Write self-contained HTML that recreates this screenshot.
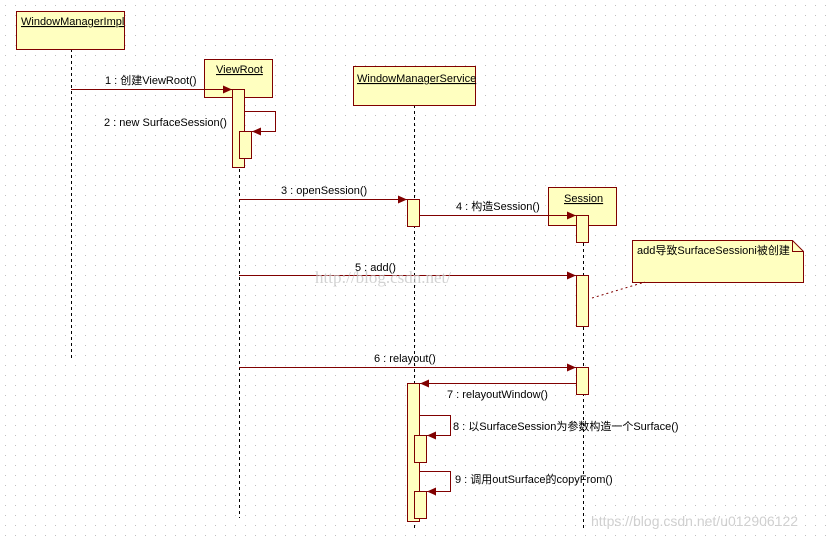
<!DOCTYPE html>
<html><head><meta charset="utf-8"><style>
html,body{margin:0;padding:0;background:#fff;}
svg{display:block;}
text{font-family:"Liberation Sans","Noto Sans CJK SC",sans-serif;font-size:11px;fill:#000;}
</style></head><body>
<svg width="834" height="539" viewBox="0 0 834 539" xmlns="http://www.w3.org/2000/svg">
<defs>
<pattern id="g" width="10" height="10" patternUnits="userSpaceOnUse"><rect x="5" y="5" width="1" height="1" fill="#c0c0c0"/></pattern>
<marker id="a" markerWidth="10" markerHeight="8" refX="9" refY="4" orient="auto" markerUnits="userSpaceOnUse"><path d="M0,0 L9,4 L0,8 z" fill="#800000"/></marker>
</defs>
<rect width="834" height="539" fill="url(#g)"/>
<g stroke="#000" stroke-dasharray="3,3" stroke-width="1">
<line x1="71.5" y1="49" x2="71.5" y2="360"/>
<line x1="239.5" y1="97" x2="239.5" y2="518"/>
<line x1="414.5" y1="105" x2="414.5" y2="530"/>
<line x1="583.5" y1="225" x2="583.5" y2="530"/>
</g>
<g fill="#ffffc0" stroke="#800000" stroke-width="1">
<rect x="16.5" y="11.5" width="108" height="38"/>
<rect x="204.5" y="59.5" width="68" height="38"/>
<rect x="353.5" y="66.5" width="122" height="39"/>
<rect x="548.5" y="187.5" width="68" height="38"/>
<path d="M632.5,240.5 H792.5 L803.5,251.5 V282.5 H632.5 Z"/>
<path d="M792.5,240.5 V251.5 H803.5" fill="none"/>
<rect x="232.5" y="89.5" width="12" height="78"/>
<rect x="239.5" y="131.5" width="12" height="27"/>
<rect x="407.5" y="199.5" width="12" height="27"/>
<rect x="576.5" y="215.5" width="12" height="27"/>
<rect x="576.5" y="275.5" width="12" height="51"/>
<rect x="576.5" y="367.5" width="12" height="27"/>
<rect x="407.5" y="383.5" width="12" height="138"/>
<rect x="414.5" y="435.5" width="12" height="27"/>
<rect x="414.5" y="491.5" width="12" height="27"/>
</g>
<g stroke="#800000" stroke-width="1" fill="none" marker-end="url(#a)">
<line x1="71" y1="89.5" x2="232" y2="89.5"/>
<path d="M244,111.5 H275.5 V131.5 H252"/>
<line x1="239" y1="199.5" x2="407" y2="199.5"/>
<line x1="420" y1="215.5" x2="576" y2="215.5"/>
<line x1="239" y1="275.5" x2="576" y2="275.5"/>
<line x1="239" y1="367.5" x2="576" y2="367.5"/>
<line x1="576" y1="383.5" x2="420" y2="383.5"/>
<path d="M420,415.5 H450.5 V435.5 H427"/>
<path d="M420,471.5 H450.5 V491.5 H427"/>
</g>
<line x1="592" y1="298" x2="645" y2="282" stroke="#800000" stroke-dasharray="2,3"/>
<g text-decoration="underline">
<text x="21" y="25">WindowManagerImpl</text>
<text x="216" y="73">ViewRoot</text>
<text x="357" y="82">WindowManagerService</text>
<text x="564" y="202">Session</text>
</g>
<text x="105" y="84">1 : 创建ViewRoot()</text>
<text x="104" y="126">2 : new SurfaceSession()</text>
<text x="281" y="194">3 : openSession()</text>
<text x="456" y="210">4 : 构造Session()</text>
<text x="355" y="271">5 : add()</text>
<text x="374" y="362">6 : relayout()</text>
<text x="447" y="398">7 : relayoutWindow()</text>
<text x="453" y="430">8 : 以SurfaceSession为参数构造一个Surface()</text>
<text x="455" y="483">9 : 调用outSurface的copyFrom()</text>
<text x="637" y="254">add导致SurfaceSessioni被创建</text>
<text x="315" y="283" style="font-family:'Liberation Serif',serif;font-size:17px;fill:#c8c8c8;opacity:0.8">http://blog.csdn.net/</text>
<text x="591" y="526" style="font-size:14px;fill:#d0d0d0">https://blog.csdn.net/u012906122</text>
</svg>
</body></html>
